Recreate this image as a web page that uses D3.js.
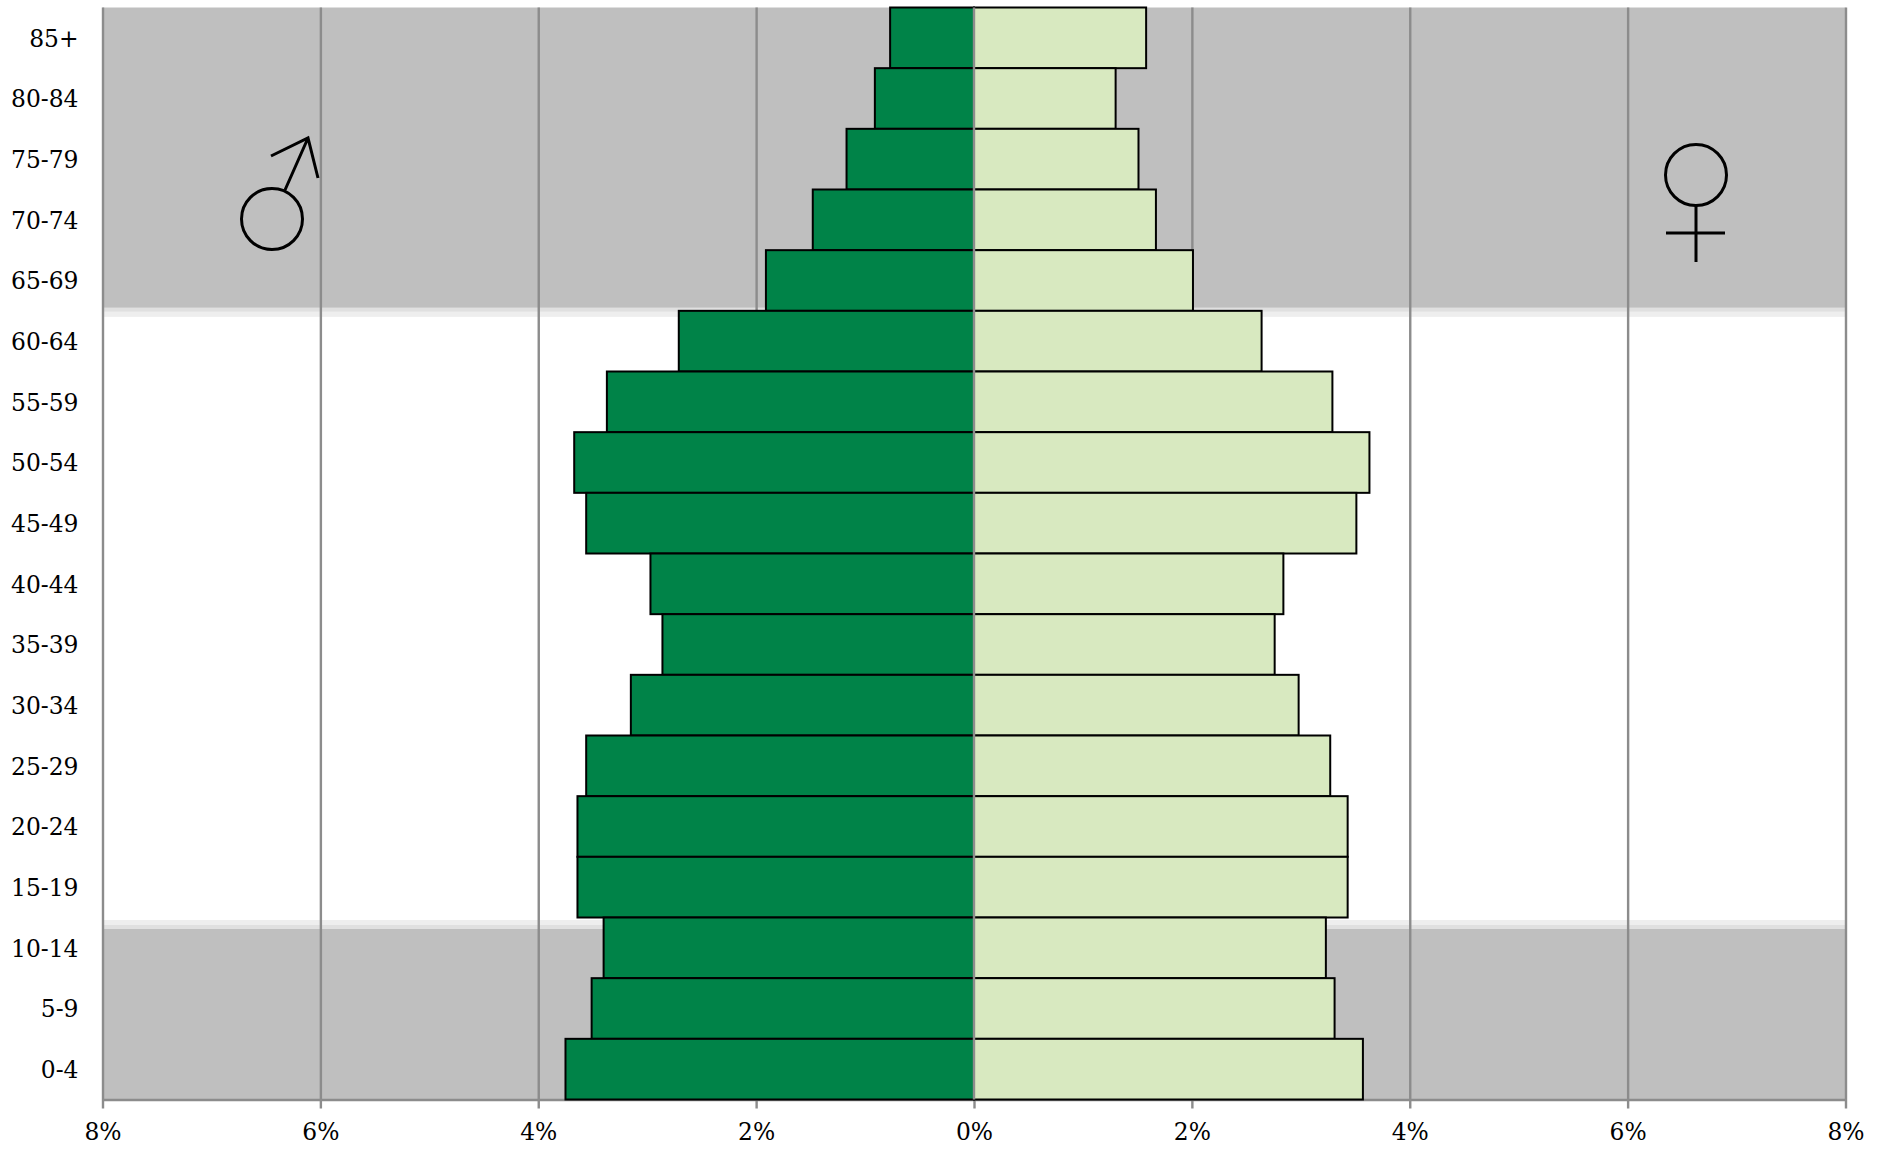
<!DOCTYPE html>
<html>
<head>
<meta charset="utf-8">
<script src="https://cdn.jsdelivr.net/npm/d3@7"></script>
<style>
  html, body { margin: 0; padding: 0; background: #fff; }
  svg { display: block; }
  text { font-family: "DejaVu Serif", serif; font-size: 23.4px; fill: #000; }
</style>
</head>
<body>
<div id="container"></div>
<script>
/* data (percent of population) */
const ages = ["85+", "80-84", "75-79", "70-74", "65-69", "60-64", "55-59", "50-54", "45-49",
  "40-44", "35-39", "30-34", "25-29", "20-24", "15-19", "10-14", "5-9", "0-4"];
const male = [0.77, 0.91, 1.17, 1.48, 1.91, 2.71, 3.37, 3.67, 3.56,
  2.97, 2.86, 3.15, 3.56, 3.64, 3.64, 3.40, 3.51, 3.75];
const female = [1.58, 1.30, 1.51, 1.67, 2.01, 2.64, 3.29, 3.63, 3.51,
  2.84, 2.76, 2.98, 3.27, 3.43, 3.43, 3.23, 3.31, 3.57];
const xTicks = [-8, -6, -4, -2, 0, 2, 4, 6, 8];
// the age groups shaded as dependants
const shadedOld = ["85+", "65-69"];
const shadedYoung = ["10-14", "0-4"];

const width = 1880, height = 1149,
  plot = { left: 102.5, right: 1845.5, top: 7.5, bottom: 1099.5 };

const svg = d3.select("#container").append("svg")
  .attr("width", width)
  .attr("height", height);

const x = d3.scaleLinear().domain([-8, 8]).range([plot.left, plot.right]);
const y = d3.scaleBand().domain(ages).range([plot.top, plot.bottom]);

// grey bands, each with a soft pale edge towards the white part
function band(y0, y1, color) {
  svg.append("rect")
    .attr("x", plot.left).attr("width", plot.right - plot.left)
    .attr("y", y0).attr("height", y1 - y0)
    .attr("fill", color);
}
const oldEdge = y(shadedOld[1]) + y.bandwidth();
const youngEdge = y(shadedYoung[0]);
band(y(shadedOld[0]), oldEdge - 3, "#bfbfbf");
band(oldEdge - 3, oldEdge + 1, "#e0e0e0");
band(oldEdge + 1, oldEdge + 6, "#eeeeee");
band(youngEdge + 2.5, youngEdge + 7.5, "#eeeeee");
band(youngEdge + 7.5, youngEdge + 11.5, "#e0e0e0");
band(youngEdge + 11.5, y(shadedYoung[1]) + y.bandwidth(), "#bfbfbf");

// x axis, ticks run up as the gridlines
const xAxis = svg.append("g")
  .attr("transform", `translate(0,${plot.bottom})`)
  .call(d3.axisBottom(x).tickValues(xTicks).tickSizeOuter(0)
    .tickFormat(d => Math.abs(d) + "%"));
xAxis.select(".domain").attr("stroke", "#8c8c8c").attr("stroke-width", 2.4);
xAxis.selectAll(".tick line")
  .attr("y1", 9).attr("y2", plot.top - plot.bottom)
  .attr("stroke", "#8c8c8c").attr("stroke-width", 2.4);
xAxis.selectAll(".tick text").attr("y", 24).attr("dy", "0.71em");

// bars
svg.selectAll(".male").data(ages).join("rect")
  .attr("class", "male")
  .attr("x", (d, i) => x(-male[i]))
  .attr("width", (d, i) => x(0) - x(-male[i]))
  .attr("y", d => y(d))
  .attr("height", y.bandwidth())
  .attr("fill", "#008348").attr("stroke", "#000").attr("stroke-width", 2);
svg.selectAll(".female").data(ages).join("rect")
  .attr("class", "female")
  .attr("x", x(0))
  .attr("width", (d, i) => x(female[i]) - x(0))
  .attr("y", d => y(d))
  .attr("height", y.bandwidth())
  .attr("fill", "#d8e9c0").attr("stroke", "#000").attr("stroke-width", 2);

// zero line sits on top of the bars
svg.append("line")
  .attr("x1", x(0)).attr("x2", x(0)).attr("y1", plot.top).attr("y2", plot.bottom)
  .attr("stroke", "#8c8c8c").attr("stroke-width", 2.4);

// age labels
svg.selectAll(".age").data(ages).join("text")
  .attr("class", "age")
  .attr("x", 78.5)
  .attr("y", d => y(d) + y.bandwidth() / 2)
  .attr("dy", "0.38em")
  .attr("text-anchor", "end")
  .text(d => d);

// sex symbols
const sym = svg.append("g").attr("fill", "none").attr("stroke", "#000").attr("stroke-width", 3);
sym.append("circle").attr("cx", 272).attr("cy", 219).attr("r", 30.5);
sym.append("path").attr("d", "M285,190L308,138M271,156L308,138L318,178");
sym.append("circle").attr("cx", 1696).attr("cy", 175).attr("r", 30.5);
sym.append("path").attr("d", "M1696,205V262M1666,233H1725");
</script>
</body>
</html>
